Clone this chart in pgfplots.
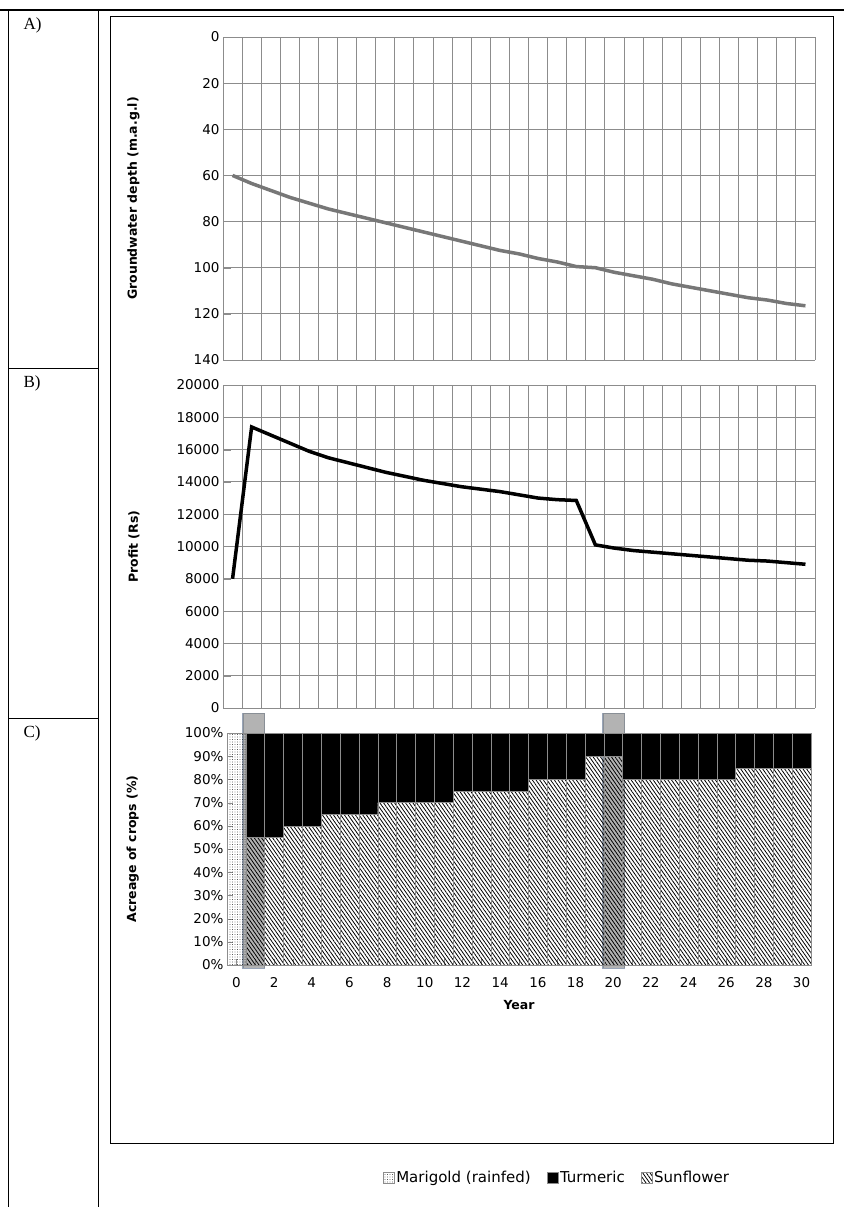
\documentclass[border=0pt]{standalone}
\usepackage{pgfplots}
\pgfplotsset{compat=1.18}
\usepackage{pgfplotstable}
\usetikzlibrary{patterns,patterns.meta}
\usepackage{fontspec}
\setmainfont{DejaVu Sans}
\newfontfamily\serif{Liberation Serif}
\definecolor{gridg}{HTML}{8C8C8C}
\definecolor{hl}{HTML}{7F8FA6}
\pgfplotstableread{
year depth profit mari sun tur
0 60 8000 100 0 0
1 63.5 17400 0 55 45
2 66.5 16900 0 55 45
3 69.5 16400 0 60 40
4 72 15900 0 60 40
5 74.5 15500 0 65 35
6 76.5 15200 0 65 35
7 78.5 14900 0 65 35
8 80.5 14600 0 70 30
9 82.5 14350 0 70 30
10 84.5 14100 0 70 30
11 86.5 13900 0 70 30
12 88.5 13700 0 75 25
13 90.5 13550 0 75 25
14 92.5 13400 0 75 25
15 94 13200 0 75 25
16 96 13000 0 80 20
17 97.5 12900 0 80 20
18 99.5 12850 0 80 20
19 100 10100 0 90 10
20 102 9900 0 90 10
21 103.5 9750 0 80 20
22 105 9650 0 80 20
23 107 9550 0 80 20
24 108.5 9450 0 80 20
25 110 9350 0 80 20
26 111.5 9250 0 80 20
27 113 9150 0 85 15
28 114 9100 0 85 15
29 115.5 9000 0 85 15
30 116.5 8900 0 85 15
}\data
\pgfplotsset{
  base/.style={scale only axis, anchor=north west, width=592pt,
    xmin=-0.5, xmax=30.5, axis line style={gridg}, tick style={gridg},
    tick label style={font=\fontsize{13.5}{15}\selectfont},
    ylabel style={font=\bfseries\fontsize{12.5}{14}\selectfont, at={(axis description cs:-0.135,0.5)}},
    /pgf/number format/assume math mode=true, /pgf/number format/1000 sep={},
    grid style={gridg, line width=1pt}},
  linepan/.style={base, axis lines*=left, x axis line style={draw=none}, y axis line style={draw=none},
    xtick={-0.5,0.5,...,30.5}, xticklabels={}, xmajorgrids, ymajorgrids,
    xtick style={draw=none}, ytick style={gridg}, major tick length=8pt}
}
\begin{document}
\begin{tikzpicture}
\useasboundingbox (0pt,0pt) rectangle (845pt,-1207pt);
% table frame
\draw[line width=1.2pt] (0pt,-10pt) -- (844pt,-10pt);
\draw[line width=1pt] (8pt,-10pt) -- (8pt,-1207pt);
\draw[line width=1pt] (98pt,-10pt) -- (98pt,-1207pt);
\draw[line width=1pt] (8pt,-368pt) -- (98pt,-368pt);
\draw[line width=1pt] (8pt,-718pt) -- (98pt,-718pt);
\draw[line width=1pt] (110pt,-17pt) rectangle (833pt,-1143pt);
\node[anchor=north west, font=\serif\fontsize{17}{20}\selectfont] at (20pt,-14pt) {A)};
\node[anchor=north west, font=\serif\fontsize{17}{20}\selectfont] at (20pt,-372pt) {B)};
\node[anchor=north west, font=\serif\fontsize{17}{20}\selectfont] at (20pt,-722pt) {C)};
% A
\begin{axis}[linepan, at={(223pt,-37pt)}, height=323pt, y dir=reverse,
  ymin=0, ymax=140, ytick={0,20,...,140}, ylabel={Groundwater depth (m.a.g.l)}]
\addplot[gridg!85!black, line width=3.5pt] table[x=year,y=depth] {\data};
\end{axis}
% B
\begin{axis}[linepan, at={(223pt,-385pt)}, height=323pt,
  ymin=0, ymax=20000, ytick={0,2000,...,20000}, ylabel={Profit (Rs)},
  scaled y ticks=false]
\addplot[black, line width=3.5pt] table[x=year,y=profit] {\data};
\end{axis}
% C
\begin{axis}[base, at={(227pt,-733pt)}, width=584pt, height=232pt, clip=false,
  ybar stacked, bar width=18.85pt, ymin=0, ymax=100, ytick={0,10,...,100},
  yticklabel={\pgfmathprintnumber{\tick}\%}, axis x line*=bottom, axis y line*=left,
  xtick={0,2,...,30}, minor xtick={1,3,...,29}, major tick length=6pt, minor tick length=6pt,
  xticklabel style={yshift=-9pt},
  xlabel={Year}, xlabel style={font=\bfseries\fontsize{12.5}{14}\selectfont, yshift=-6pt},
  ylabel={Acreage of crops (\%)}, ylabel style={at={(axis description cs:-0.145,0.5)}},
  legend style={draw=none, at={(axis description cs:0.565,-0.918)}, anchor=center,
    legend columns=3, font=\fontsize{15}{17}\selectfont, /tikz/every even column/.append style={column sep=14pt}},
  legend image code/.code={\draw[#1, draw=gridg] (0pt,-5.5pt) rectangle (11pt,5.5pt);}]
\addlegendimage{pattern={Dots[distance=2.5pt, radius=0.45pt]}}
\addlegendentry{Marigold (rainfed)}
\addlegendimage{fill=black}
\addlegendentry{Turmeric}
\addlegendimage{pattern={Lines[angle=-55, distance=3pt, line width=0.8pt]}}
\addlegendentry{Sunflower}
\addplot[forget plot, draw=gridg, pattern={Dots[distance=2.5pt, radius=0.45pt]}] table[x=year,y=mari] {\data};
\addplot[forget plot, draw=gridg, pattern={Lines[angle=-55, distance=3pt, line width=0.8pt]}] table[x=year,y=sun] {\data};
\addplot[forget plot, draw=gridg, fill=black] table[x=year,y=tur] {\data};
\fill[gray, opacity=0.6] (axis cs:0.35,-1.5) rectangle (axis cs:1.5,108.5);
\draw[hl, line width=1.5pt, opacity=0.8] (axis cs:0.35,-1.5) rectangle (axis cs:1.5,108.5);
\fill[gray, opacity=0.6] (axis cs:19.45,-1.5) rectangle (axis cs:20.6,108.5);
\draw[hl, line width=1.5pt, opacity=0.8] (axis cs:19.45,-1.5) rectangle (axis cs:20.6,108.5);
\end{axis}
\end{tikzpicture}
\end{document}
